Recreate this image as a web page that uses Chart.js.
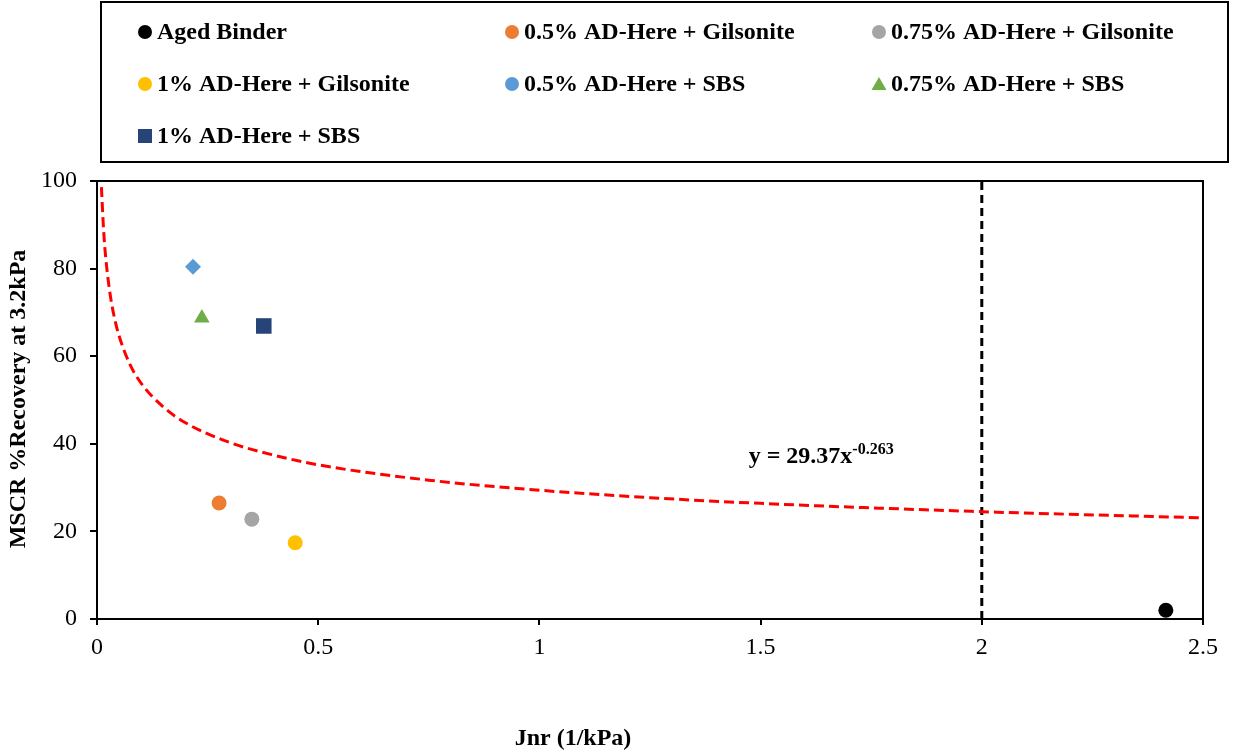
<!DOCTYPE html>
<html>
<head>
<meta charset="utf-8">
<script src="https://cdn.jsdelivr.net/npm/chart.js@4.4.0/dist/chart.umd.min.js"></script>
<style>
  body { margin: 0; background: #fff; }
  #mscrCanvas { display: block; }
</style>
</head>
<body>
<canvas id="mscrCanvas" width="1235" height="754"></canvas>
<script>
// binders
var seriesNames = ["Aged Binder", "0.5% AD-Here + Gilsonite", "0.75% AD-Here + Gilsonite",
  "1% AD-Here + Gilsonite", "0.5% AD-Here + SBS", "0.75% AD-Here + SBS", "1% AD-Here + SBS"];
var jnrValues = [2.416, 0.276, 0.350, 0.448, 0.217, 0.237, 0.377];
var recoveryValues = [2.0, 26.5, 22.8, 17.4, 80.4, 68.7, 66.9];
var seriesColors = ["#000000", "#ED7D31", "#A5A5A5", "#FFC000", "#5B9BD5", "#70AD47", "#264478"];
var plotShapes = ["circle", "circle", "circle", "circle", "rectRot", "triangle", "rect"];
var legendShapes = ["circle", "circle", "circle", "circle", "circle", "triangle", "rect"];

// power trendline
var trendX = [0.01, 0.015, 0.02, 0.03, 0.04, 0.05, 0.075, 0.1, 0.15, 0.2, 0.3, 0.4, 0.5, 0.75, 1, 1.25, 1.5, 2, 2.5];
var trendY = [98.6, 88.6, 82.2, 73.9, 68.5, 64.6, 58.0, 53.8, 48.4, 44.8, 40.3, 37.4, 35.2, 31.7, 29.4, 27.7, 26.4, 24.5, 23.1];
var trendLabel = ["y = 29.37x", "-0.263"];

// Jnr limit line
var limitX = [2, 2];
var limitY = [0, 100];

var xTicks = [0, 0.5, 1, 1.5, 2, 2.5];
var yTicks = [0, 20, 40, 60, 80, 100];

var serif = "'Liberation Serif', 'Times New Roman', serif";

function radiusFor(shape) {
  if (shape === "rect") return 11;
  if (shape === "triangle") return 9;
  if (shape === "rectRot") return 8;
  return 7.5;
}

var datasets = [];
for (var i = 0; i < seriesNames.length; i++) {
  datasets.push({
    label: seriesNames[i],
    data: [{ x: jnrValues[i], y: recoveryValues[i] }],
    backgroundColor: seriesColors[i],
    borderColor: seriesColors[i],
    borderWidth: 0,
    pointStyle: plotShapes[i],
    pointRadius: radiusFor(plotShapes[i]),
    showLine: false
  });
}
datasets.push({
  label: "trend",
  data: trendX.map(function (x, k) { return { x: x, y: trendY[k] }; }),
  borderColor: "#FF0000",
  borderWidth: 3,
  borderDash: [10, 5],
  pointRadius: 0,
  showLine: true,
  cubicInterpolationMode: "monotone"
});
datasets.push({
  label: "limit",
  data: limitX.map(function (x, k) { return { x: x, y: limitY[k] }; }),
  borderColor: "#000000",
  borderWidth: 3,
  borderDash: [8, 5],
  pointRadius: 0,
  showLine: true
});

var extras = {
  id: "extras",
  afterDraw: function (chart) {
    var ctx = chart.ctx;
    var a = chart.chartArea;
    var xs = chart.scales.x, ys = chart.scales.y;
    ctx.save();

    // plot frame
    ctx.strokeStyle = "#000";
    ctx.lineWidth = 2;
    ctx.strokeRect(a.left, a.top, a.right - a.left, a.bottom - a.top);

    // legend box
    ctx.strokeRect(101, 2, 1127, 160);
    ctx.font = "bold 24px " + serif;
    ctx.textBaseline = "middle";
    ctx.textAlign = "left";
    var colX = [145, 512, 879];
    var rowY = [32, 84, 136];
    for (var i = 0; i < seriesNames.length; i++) {
      var cx = colX[i % 3], cy = rowY[Math.floor(i / 3)];
      ctx.fillStyle = seriesColors[i];
      var shape = legendShapes[i];
      ctx.beginPath();
      if (shape === "rect") {
        ctx.rect(cx - 7, cy - 7, 14, 14);
      } else if (shape === "triangle") {
        ctx.moveTo(cx, cy - 7);
        ctx.lineTo(cx + 7.5, cy + 6);
        ctx.lineTo(cx - 7.5, cy + 6);
        ctx.closePath();
      } else {
        ctx.arc(cx, cy, 7, 0, Math.PI * 2);
      }
      ctx.fill();
      ctx.fillStyle = "#000";
      ctx.fillText(seriesNames[i], cx + 12, cy + 1);
    }

    // trendline equation
    var ex = xs.getPixelForValue(1.473), ey = ys.getPixelForValue(35.6);
    ctx.font = "bold 24px " + serif;
    ctx.textBaseline = "alphabetic";
    ctx.fillText(trendLabel[0], ex, ey);
    var w = ctx.measureText(trendLabel[0]).width;
    ctx.font = "bold 16px " + serif;
    ctx.fillText(trendLabel[1], ex + w, ey - 9);

    // axis titles
    ctx.font = "bold 24px " + serif;
    ctx.textAlign = "center";
    ctx.textBaseline = "middle";
    ctx.fillText("Jnr (1/kPa)", 573, 739);
    ctx.translate(19, 399);
    ctx.rotate(-Math.PI / 2);
    ctx.fillText("MSCR %Recovery at 3.2kPa", 0, 0);
    ctx.restore();
  }
};

function plainLabel(v) { return String(v); }

new Chart(document.getElementById("mscrCanvas"), {
  type: "scatter",
  data: { datasets: datasets },
  plugins: [extras],
  options: {
    responsive: false,
    animation: false,
    layout: { padding: { top: 181, right: 32, left: 0, bottom: 0 } },
    plugins: { legend: { display: false }, tooltip: { enabled: false } },
    scales: {
      x: {
        type: "linear",
        min: 0, max: 2.5,
        afterBuildTicks: function (axis) { axis.ticks = xTicks.map(function (v) { return { value: v }; }); },
        afterFit: function (axis) { axis.height = 754 - 619; },
        border: { color: "#000", width: 2 },
        grid: { drawOnChartArea: false, drawTicks: true, tickLength: 6, color: "#000", lineWidth: 2 },
        ticks: { color: "#000", font: { family: serif, size: 24 }, padding: 8, maxRotation: 0, callback: plainLabel }
      },
      y: {
        type: "linear",
        min: 0, max: 100,
        afterBuildTicks: function (axis) { axis.ticks = yTicks.map(function (v) { return { value: v }; }); },
        afterFit: function (axis) { axis.width = 97; },
        border: { color: "#000", width: 2 },
        grid: { drawOnChartArea: false, drawTicks: true, tickLength: 7, color: "#000", lineWidth: 2 },
        ticks: { color: "#000", font: { family: serif, size: 24 }, padding: 13, callback: plainLabel }
      }
    }
  }
});
</script>
</body>
</html>
